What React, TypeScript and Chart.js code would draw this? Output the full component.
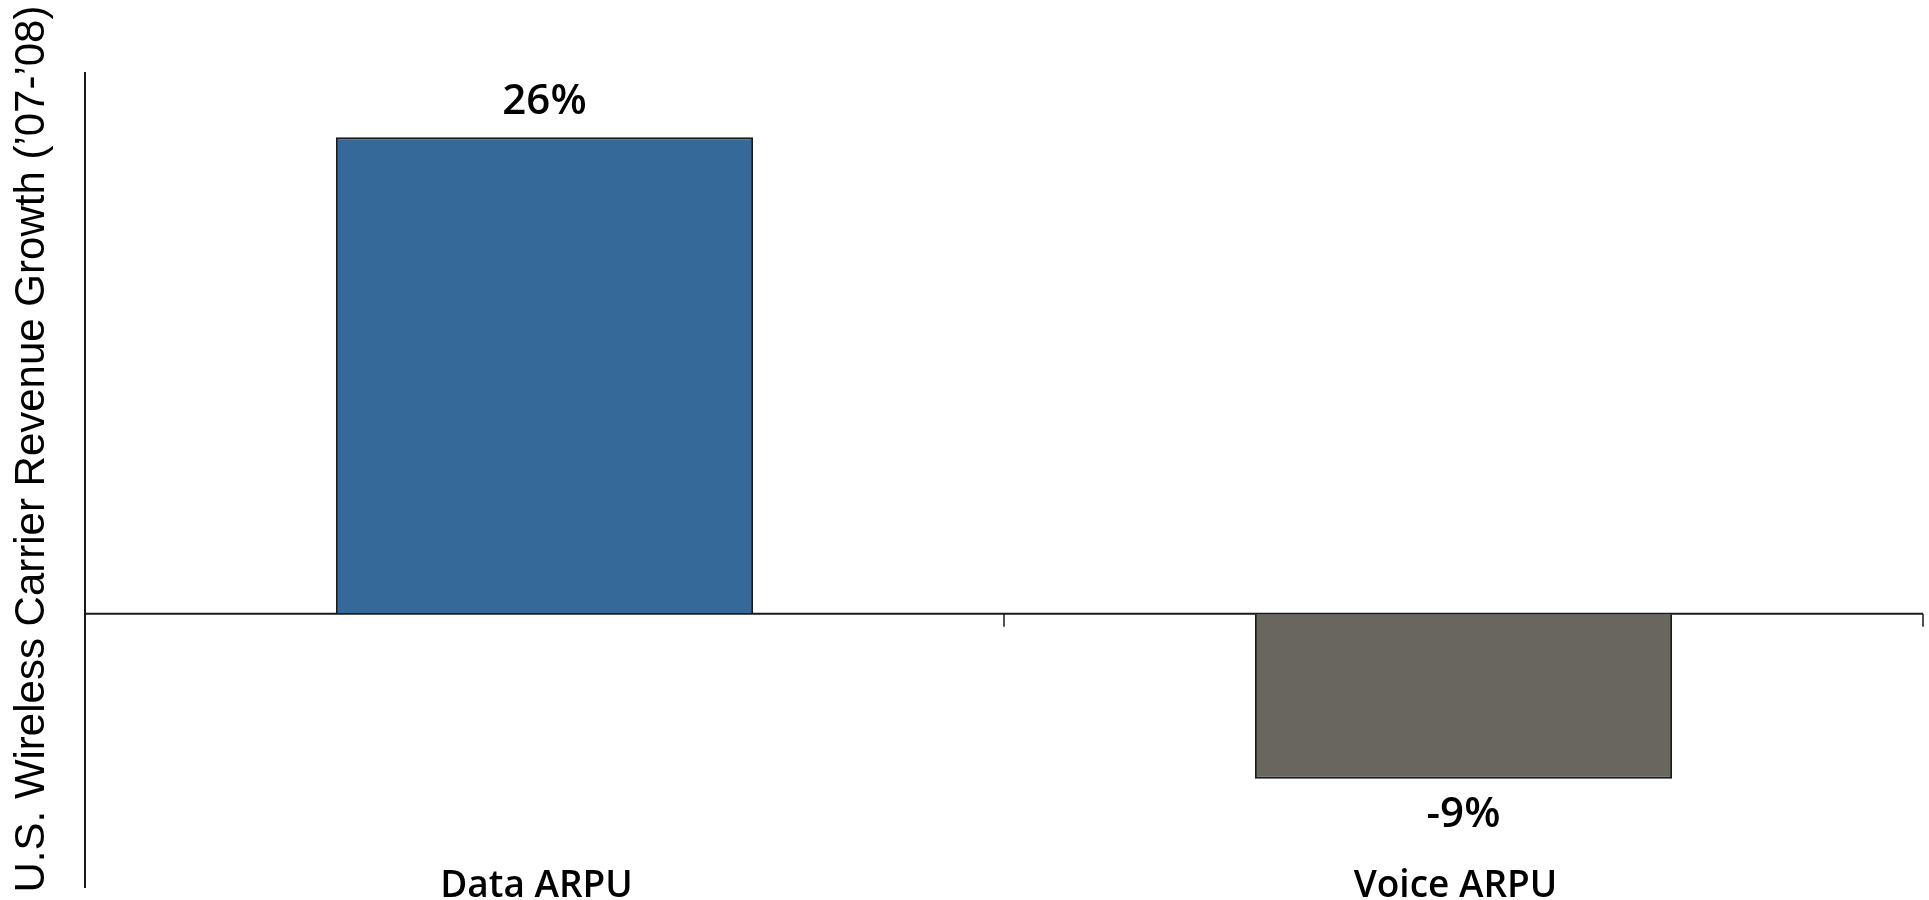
import React, { useEffect, useRef } from "react";
import { Chart, registerables } from "chart.js";

Chart.register(...registerables);

const categories = ["Data ARPU", "Voice ARPU"];
const growthValues = [26, -9];
const valueLabels = ["26%", "-9%"];
const barColors = ["#35699A", "#69655F"];
const yAxisTitle = "U.S. Wireless Carrier Revenue Growth (\u201907-\u201908)";

const W = 1929;
const H = 900;

const overlayPlugin = {
  id: "overlay",
  beforeDatasetsDraw(chart: any) {
    const { ctx, scales } = chart;
    const x = scales.x;
    const y = scales.y;
    const y0 = y.getPixelForValue(0);
    ctx.save();
    ctx.strokeStyle = "#1a1a1a";
    ctx.lineWidth = 2;
    ctx.beginPath();
    ctx.moveTo(x.left, y0);
    ctx.lineTo(x.right, y0);
    ctx.stroke();
    const n = categories.length;
    const bounds: number[] = [x.left];
    for (let i = 1; i < n; i++) {
      bounds.push((x.getPixelForValue(i - 1) + x.getPixelForValue(i)) / 2);
    }
    bounds.push(x.right);
    ctx.lineWidth = 1.5;
    bounds.forEach((bx) => {
      ctx.beginPath();
      ctx.moveTo(bx, y0);
      ctx.lineTo(bx, y0 + 13);
      ctx.stroke();
    });
    ctx.restore();
  },
  afterDatasetsDraw(chart: any) {
    const { ctx, scales } = chart;
    const x = scales.x;
    const meta = chart.getDatasetMeta(0);
    ctx.save();
    ctx.fillStyle = "#000000";
    ctx.textAlign = "center";
    ctx.textBaseline = "alphabetic";
    ctx.font = "600 42px 'Open Sans'";
    meta.data.forEach((bar: any, i: number) => {
      const v = growthValues[i];
      if (v >= 0) {
        ctx.fillText(valueLabels[i], bar.x, bar.y - 23);
      } else {
        ctx.fillText(valueLabels[i], bar.x, bar.y + 48);
      }
    });
    ctx.font = "600 37px 'Open Sans'";
    categories.forEach((c, i) => {
      ctx.fillText(c, x.getPixelForValue(i) - 8, 897);
    });
    ctx.font = "42px 'Liberation Sans', Arial, sans-serif";
    ctx.translate(44, 449);
    ctx.rotate(-Math.PI / 2);
    ctx.fillText(yAxisTitle, 0, 0);
    ctx.restore();
  },
};

export default function App() {
  const ref = useRef<HTMLCanvasElement>(null);
  useEffect(() => {
    document.body.style.margin = "0";
    document.body.style.overflow = "hidden";
    const canvas = ref.current!;
    const chart = new Chart(canvas, {
      type: "bar",
      data: {
        labels: categories,
        datasets: [
          {
            data: growthValues,
            backgroundColor: barColors,
            borderColor: "#1a1a1a",
            borderWidth: 2,
            barPercentage: 0.454,
            categoryPercentage: 1,
          },
        ],
      },
      options: {
        responsive: false,
        animation: false,
        layout: { padding: { top: 73, bottom: 13, left: 85, right: 6 } },
        plugins: {
          legend: { display: false },
          tooltip: { enabled: false },
        },
        scales: {
          x: {
            display: false,
            offset: true,
          },
          y: {
            display: true,
            min: -14.9,
            max: 29.5,
            ticks: { display: false },
            grid: { display: true, drawOnChartArea: false, drawTicks: false },
            border: { display: true, color: "#1a1a1a", width: 2 },
          },
        },
      },
      plugins: [overlayPlugin],
    });
    return () => chart.destroy();
  }, []);
  return (
    <div style={{ width: W, height: H }}>
      <canvas ref={ref} width={W} height={H} style={{ display: "block" }} />
    </div>
  );
}
